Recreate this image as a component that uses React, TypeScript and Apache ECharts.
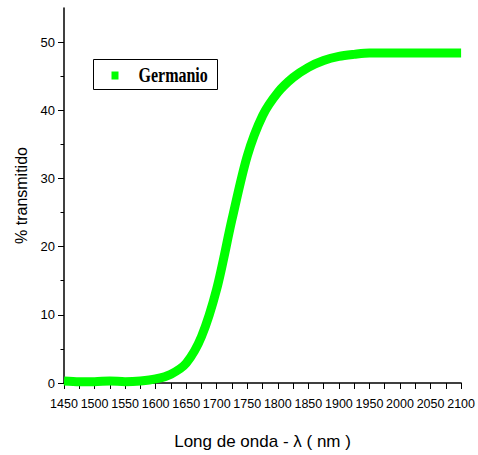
import React, { useEffect, useRef } from "react";
import * as echarts from "echarts";

const wavelengths = [
  1450, 1475, 1500, 1525, 1550, 1575, 1600, 1625, 1650, 1675, 1700, 1725, 1750,
  1775, 1800, 1825, 1850, 1875, 1900, 1925, 1950, 1975, 2000, 2025, 2050, 2075, 2100,
];
const transmission = [
  0.3, 0.2, 0.2, 0.3, 0.2, 0.3, 0.6, 1.3, 2.9, 6.8, 13.8, 24, 33.3,
  39.2, 42.6, 44.8, 46.3, 47.3, 47.9, 48.2, 48.4, 48.4, 48.4, 48.4, 48.4, 48.4, 48.4,
];
const yTickValues = [0, 10, 20, 30, 40, 50];
const seriesName = "Germanio";
const xTitle = "Long de onda - λ ( nm )";
const yTitle = "% transmitido";

const SANS = "'Liberation Sans', Arial, sans-serif";

export default function App() {
  const ref = useRef<HTMLDivElement>(null);
  useEffect(() => {
    if (!ref.current) return;
    const chart = echarts.init(ref.current, null, { renderer: "svg" });
    const data = wavelengths.map((w, i) => [w, transmission[i]]);
    chart.setOption({
      animation: false,
      backgroundColor: "#ffffff",
      grid: { left: 64, right: 13, top: 8, bottom: 68, containLabel: false },
      xAxis: {
        type: "value",
        min: 1450,
        max: 2100,
        interval: 50,
        name: xTitle,
        nameLocation: "middle",
        nameGap: 50,
        nameTextStyle: { fontFamily: SANS, fontSize: 17, color: "#000" },
        axisLine: { show: true, onZero: false, lineStyle: { color: "#000", width: 1.5 } },
        axisTick: { show: true, inside: false, length: 6, lineStyle: { color: "#000", width: 1 } },
        minorTick: { show: true, splitNumber: 2, length: 6, lineStyle: { color: "#000", width: 1 } },
        axisLabel: {
          fontFamily: SANS,
          fontSize: 12.5,
          color: "#000",
          margin: 14,
          showMinLabel: true,
          showMaxLabel: true,
          hideOverlap: false,
          formatter: (v: number) => String(v),
        },
        splitLine: { show: false },
      },
      yAxis: {
        type: "value",
        min: 0,
        max: 55,
        interval: 10,
        name: yTitle,
        nameLocation: "middle",
        nameGap: 28,
        nameTextStyle: { fontFamily: SANS, fontSize: 16, color: "#000" },
        axisLine: { show: true, onZero: false, lineStyle: { color: "#000", width: 1.5 } },
        axisTick: { show: true, length: 6, customValues: yTickValues, lineStyle: { color: "#000", width: 1 } },
        minorTick: { show: true, splitNumber: 2, length: 3.5, lineStyle: { color: "#000", width: 1 } },
        axisLabel: {
          fontFamily: SANS,
          fontSize: 13,
          color: "#000",
          margin: 9,
          customValues: yTickValues,
          formatter: (v: number) => String(v),
        },
        splitLine: { show: false },
      },
      graphic: [
        {
          type: "group",
          left: 93,
          top: 59,
          children: [
            {
              type: "rect",
              shape: { x: 0, y: 0, width: 124, height: 30 },
              style: { fill: "#fff", stroke: "#000", lineWidth: 1 },
            },
            {
              type: "rect",
              shape: { x: 18, y: 12, width: 7, height: 8 },
              style: { fill: "#00ff00" },
            },
            {
              type: "text",
              x: 45,
              y: 16,
              scaleX: 0.8,
              style: {
                text: seriesName,
                fontFamily: "'Liberation Serif', 'Times New Roman', serif",
                fontWeight: "bold",
                fontSize: 20,
                fill: "#000",
                verticalAlign: "middle",
                align: "left",
              },
            },
          ],
        },
      ],
      series: [
        {
          name: seriesName,
          type: "line",
          data,
          smooth: 0.3,
          showSymbol: false,
          clip: false,
          lineStyle: { color: "#00ff00", width: 9, cap: "butt" },
        },
      ],
    });
    return () => chart.dispose();
  }, []);
  return (
    <div
      ref={ref}
      style={{ position: "absolute", left: 0, top: 0, width: 478, height: 455 }}
    />
  );
}
